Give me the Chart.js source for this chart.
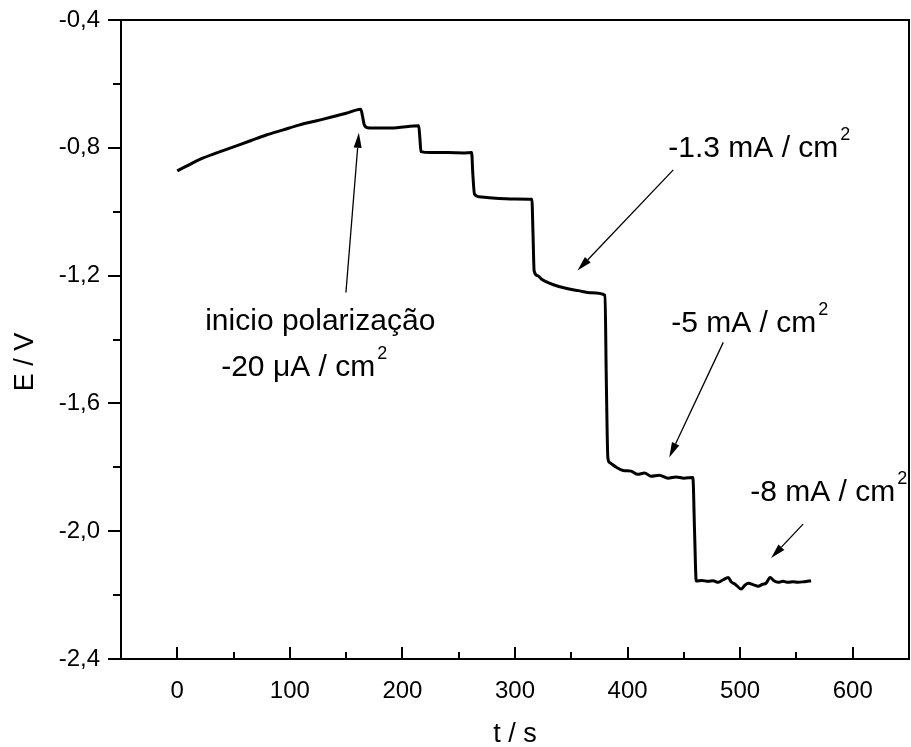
<!DOCTYPE html>
<html>
<head>
<meta charset="utf-8">
<script src="https://cdn.jsdelivr.net/npm/chart.js@4/dist/chart.umd.min.js"></script>
<style>
  html, body { margin: 0; padding: 0; background: #fff; }
  canvas { display: block; }
</style>
</head>
<body>
<canvas id="potentialChart" width="911" height="747"></canvas>
<script>
// Chronopotentiometry curve, E vs t
const timeS = [0, 10, 20, 35, 50, 65, 79, 94, 108, 123, 138, 150, 163, 164.5, 166, 169, 180, 195, 214.5,
    215.5, 216.5, 225, 240, 255, 261.5, 262.5, 264, 268, 280, 300, 315, 316, 317, 320, 324, 331, 339,
    347, 356, 368, 380, 381, 382.5, 384, 390, 396, 403, 409, 415, 421, 428, 436, 443, 450, 458, 459.5,
    461, 466, 471.6, 476, 480.5, 485, 489.4, 492, 495.6, 500.9, 504, 507.1, 512, 516, 520, 523, 526.6,
    530, 533.7, 538, 542.6, 547, 551.4, 557, 563];
const potentialV = [-0.872, -0.854, -0.836, -0.816, -0.797, -0.778, -0.760, -0.744, -0.729, -0.716, -0.703,
    -0.692, -0.679, -0.700, -0.727, -0.737, -0.738, -0.737, -0.731,
    -0.770, -0.812, -0.815, -0.815, -0.816, -0.815, -0.880, -0.945, -0.953, -0.957, -0.960, -0.961,
    -1.07, -1.185, -1.200, -1.212, -1.224, -1.234, -1.241, -1.247, -1.254, -1.262, -1.50, -1.770,
    -1.785, -1.800, -1.810, -1.812, -1.822, -1.818, -1.828, -1.825, -1.834, -1.830, -1.834, -1.832,
    -2.00, -2.156, -2.154, -2.157, -2.155, -2.160, -2.152, -2.145, -2.158, -2.166, -2.181, -2.170,
    -2.163, -2.168, -2.172, -2.166, -2.163, -2.145, -2.155, -2.160, -2.157, -2.160, -2.158, -2.160,
    -2.158, -2.155];

const xTicks = [0, 100, 200, 300, 400, 500, 600];
const xMinorTicks = [50, 150, 250, 350, 450, 550];
const yTicks = [-0.4, -0.8, -1.2, -1.6, -2.0, -2.4];
const yMinorTicks = [-0.6, -1.0, -1.4, -1.8, -2.2];

// annotation labels: text, superscript, anchor (t, E) of the baseline start
const noteTexts = ['inicio polarização', '-20 μA / cm', '-1.3 mA / cm', '-5 mA / cm', '-8 mA / cm'];
const noteSups = ['', '2', '2', '2', '2'];
const noteT = [24.8, 39, 436.2, 438.8, 508.9];
const noteE = [-1.369, -1.5156, -0.828, -1.375, -1.906];

// arrows: tail (t, E) -> tip (t, E)
const arrowTail = [[149.8, -1.253], [440.6, -0.869], [485, -1.409], [555.9, -1.978]];
const arrowTip = [[161.3, -0.753], [355.5, -1.1844], [437, -1.769], [527.5, -2.084]];

const FONT = '"Liberation Sans", Arial, sans-serif';

const framePlugin = {
    id: 'frameAndTicks',
    afterDatasetsDraw(chart) {
        const { ctx, chartArea: a, scales: { x, y } } = chart;
        ctx.save();
        ctx.strokeStyle = '#000';
        ctx.lineWidth = 2;
        ctx.strokeRect(a.left, a.top, a.right - a.left, a.bottom - a.top);

        // y ticks point outward
        ctx.beginPath();
        yTicks.forEach(v => {
            const py = Math.round(y.getPixelForValue(v));
            ctx.moveTo(a.left - 13, py); ctx.lineTo(a.left, py);
        });
        yMinorTicks.forEach(v => {
            const py = Math.round(y.getPixelForValue(v));
            ctx.moveTo(a.left - 8, py); ctx.lineTo(a.left, py);
        });
        // x ticks point inward
        xTicks.forEach(v => {
            const px = Math.round(x.getPixelForValue(v));
            ctx.moveTo(px, a.bottom); ctx.lineTo(px, a.bottom - 12);
        });
        xMinorTicks.forEach(v => {
            const px = Math.round(x.getPixelForValue(v));
            ctx.moveTo(px, a.bottom); ctx.lineTo(px, a.bottom - 7);
        });
        ctx.stroke();
        ctx.restore();
    },
    afterDraw(chart) {
        const { ctx, chartArea: a, scales: { x, y } } = chart;
        ctx.save();
        ctx.fillStyle = '#000';
        ctx.strokeStyle = '#000';

        // axis titles
        ctx.font = '27px ' + FONT;
        ctx.textAlign = 'center';
        ctx.textBaseline = 'alphabetic';
        ctx.fillText('t / s', (a.left + a.right) / 2, 742);
        ctx.save();
        ctx.translate(33, 362);
        ctx.rotate(-Math.PI / 2);
        ctx.fillText('E / V', 0, 0);
        ctx.restore();

        // annotations
        ctx.textAlign = 'left';
        noteTexts.forEach((txt, i) => {
            const px = x.getPixelForValue(noteT[i]);
            const py = y.getPixelForValue(noteE[i]);
            ctx.font = '30px ' + FONT;
            ctx.fillText(txt, px, py);
            if (noteSups[i]) {
                const w = ctx.measureText(txt).width;
                ctx.font = '18px ' + FONT;
                ctx.fillText(noteSups[i], px + w + 2, py - 17);
            }
        });

        // arrows
        ctx.lineWidth = 1.3;
        arrowTail.forEach((tail, i) => {
            const x0 = x.getPixelForValue(tail[0]), y0 = y.getPixelForValue(tail[1]);
            const x1 = x.getPixelForValue(arrowTip[i][0]), y1 = y.getPixelForValue(arrowTip[i][1]);
            const ang = Math.atan2(y1 - y0, x1 - x0);
            const len = 15, half = 4;
            const bx = x1 - len * Math.cos(ang), by = y1 - len * Math.sin(ang);
            ctx.beginPath();
            ctx.moveTo(x0, y0); ctx.lineTo(bx, by);
            ctx.stroke();
            ctx.beginPath();
            ctx.moveTo(x1, y1);
            ctx.lineTo(bx + half * Math.sin(ang), by - half * Math.cos(ang));
            ctx.lineTo(bx - half * Math.sin(ang), by + half * Math.cos(ang));
            ctx.closePath();
            ctx.fill();
        });
        ctx.restore();
    }
};

const points = timeS.map((t, i) => ({ x: t, y: potentialV[i] }));

new Chart(document.getElementById('potentialChart').getContext('2d'), {
    type: 'line',
    data: {
        datasets: [{
            data: points,
            borderColor: '#000',
            borderWidth: 3,
            pointRadius: 0,
            fill: false,
            cubicInterpolationMode: 'monotone',
            borderJoinStyle: 'round'
        }]
    },
    options: {
        responsive: false,
        devicePixelRatio: 1,
        animation: false,
        layout: { padding: { top: 20, right: 2, left: 0, bottom: 0 } },
        plugins: { legend: { display: false }, tooltip: { enabled: false } },
        scales: {
            x: {
                type: 'linear',
                min: -50,
                max: 650,
                afterFit: s => { s.height = 88; s.paddingLeft = 0; s.paddingRight = 0; },
                afterBuildTicks: s => { s.ticks = xTicks.map(v => ({ value: v })); },
                grid: { display: false, drawTicks: false },
                border: { display: false },
                ticks: {
                    color: '#000',
                    font: { family: FONT, size: 24 },
                    padding: 18,
                    maxRotation: 0,
                    callback: v => String(v)
                }
            },
            y: {
                type: 'linear',
                min: -2.4,
                max: -0.4,
                afterFit: s => { s.width = 121; s.paddingTop = 0; s.paddingBottom = 0; },
                afterBuildTicks: s => { s.ticks = yTicks.map(v => ({ value: v })); },
                grid: { display: false, drawTicks: false },
                border: { display: false },
                ticks: {
                    color: '#000',
                    font: { family: FONT, size: 24 },
                    padding: 21,
                    callback: v => v.toFixed(1).replace('.', ',')
                }
            }
        }
    },
    plugins: [framePlugin]
});
</script>
</body>
</html>
